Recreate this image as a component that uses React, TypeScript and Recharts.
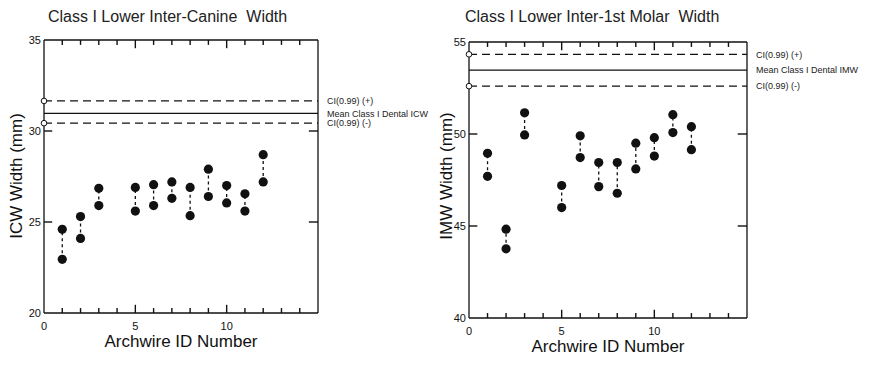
import { ScatterChart, Scatter, XAxis, YAxis, ReferenceLine, ReferenceDot } from 'recharts'

const archwireIds = [1, 2, 3, 5, 6, 7, 8, 9, 10, 11, 12]

// inter-canine width (mm), upper and lower value per archwire
const icwHigh = [24.6, 25.3, 26.85, 26.9, 27.05, 27.2, 26.9, 27.9, 27.0, 26.55, 28.7]
const icwLow = [22.95, 24.1, 25.9, 25.6, 25.9, 26.3, 25.35, 26.4, 26.05, 25.6, 27.2]
const icwRefs = [31.65, 30.97, 30.43]
const icwRefLabels = ['CI(0.99) (+)', 'Mean Class I Dental ICW', 'CI(0.99) (-)']
const icwTicks = [20, 25, 30, 35]

// inter-1st molar width (mm)
const imwHigh = [48.95, 44.83, 51.15, 47.2, 49.9, 48.45, 48.45, 49.5, 49.8, 51.05, 50.4]
const imwLow = [47.7, 43.76, 49.95, 46.0, 48.72, 47.14, 46.78, 48.1, 48.8, 50.08, 49.15]
const imwRefs = [54.33, 53.47, 52.6]
const imwRefLabels = ['CI(0.99) (+)', 'Mean Class I Dental IMW', 'CI(0.99) (-)']
const imwTicks = [40, 45, 50, 55]

const xTicks = [0, 1, 2, 3, 4, 5, 6, 7, 8, 9, 10, 11, 12, 13, 14, 15]
const xLabelTicks = [0, 5, 10]

const FONT = '"Liberation Sans", Arial, sans-serif'
const INK = '#111'
const AXIS_W = 1.3
// inward tick mark lengths, in axis units (both axes span 15 units over ~275px)
const MINOR = 0.27
const MAJOR = 0.45

const Dot = (p: any) => <circle cx={p.cx} cy={p.cy} r={4.6} fill={INK} />

const BottomLabel = (p: any) => {
  const v = p.payload.value
  if (!xLabelTicks.includes(v)) return <g />
  return <text x={p.x} y={p.y + 17} textAnchor="middle" fontSize={11} fill={INK} fontFamily={FONT}>{v}</text>
}

const LeftLabel = (p: any) => (
  <text x={p.x - 3} y={p.y + 4} textAnchor="end" fontSize={11} fill={INK} fontFamily={FONT}>{p.payload.value}</text>
)

type PanelProps = {
  left: number
  width: number
  margin: { top: number; right: number; bottom: number; left: number }
  yAxisWidth: number
  xAxisHeight: number
  title: string
  titleLeft: number
  yLabel: string
  yLabelX: number
  xLabelX: number
  xLabelY: number
  high: number[]
  low: number[]
  refs: number[]
  refLabels: string[]
  yTicks: number[]
}

function Panel(p: PanelProps) {
  const y0 = p.yTicks[0]
  const y1 = p.yTicks[p.yTicks.length - 1]
  const highPts = archwireIds.map((x, i) => ({ x, y: p.high[i] }))
  const lowPts = archwireIds.map((x, i) => ({ x, y: p.low[i] }))
  const inner = p.yTicks.slice(1, -1)
  const innerX = xTicks.slice(1, -1)
  const tickLine = { stroke: INK, strokeWidth: 1.4, ifOverflow: 'visible' as const }
  return (
    <>
      <div style={{ position: 'absolute', left: p.titleLeft, top: 8, fontSize: 16, color: '#222', whiteSpace: 'pre', fontFamily: FONT }}>
        {p.title}
      </div>
      <div
        style={{
          position: 'absolute', left: p.yLabelX, top: 176, fontSize: 17, color: INK, whiteSpace: 'nowrap',
          fontFamily: FONT, transform: 'translate(-50%, -50%) rotate(-90deg)',
        }}
      >
        {p.yLabel}
      </div>
      <div
        style={{
          position: 'absolute', left: p.xLabelX, top: p.xLabelY, fontSize: 17, color: INK, whiteSpace: 'nowrap',
          fontFamily: FONT, transform: 'translate(-50%, -50%)',
        }}
      >
        Archwire ID Number
      </div>
      <div style={{ position: 'absolute', left: p.left, top: 0 }}>
        <ScatterChart width={p.width} height={367} margin={p.margin}>
          <XAxis
            type="number" dataKey="x" domain={[0, 15]} ticks={xTicks} interval={0}
            height={p.xAxisHeight} tickSize={0} tickMargin={0} tickLine={false}
            tick={<BottomLabel />} stroke={INK} strokeWidth={AXIS_W}
          />
          <XAxis
            xAxisId="top" orientation="top" type="number" dataKey="x" domain={[0, 15]}
            height={1} tick={false} tickLine={false} stroke={INK} strokeWidth={AXIS_W}
          />
          <YAxis
            type="number" dataKey="y" domain={[y0, y1]} ticks={p.yTicks} interval={0}
            width={p.yAxisWidth} tickSize={0} tickMargin={0} tickLine={false}
            tick={<LeftLabel />} stroke={INK} strokeWidth={AXIS_W}
          />
          <YAxis
            yAxisId="right" orientation="right" type="number" domain={[y0, y1]}
            width={1} tick={false} tickLine={false} stroke={INK} strokeWidth={AXIS_W}
          />
          {/* inward tick marks on all four sides */}
          {innerX.map((x) => {
            const len = xLabelTicks.includes(x) ? MAJOR : MINOR
            return [
              <ReferenceLine key={'tb' + x} segment={[{ x, y: y0 }, { x, y: y0 + len }]} {...tickLine} />,
              <ReferenceLine key={'tt' + x} segment={[{ x, y: y1 }, { x, y: y1 - len }]} {...tickLine} />,
            ]
          })}
          {inner.map((y) => [
            <ReferenceLine key={'tl' + y} segment={[{ x: 0, y }, { x: MAJOR, y }]} {...tickLine} />,
            <ReferenceLine key={'tr' + y} segment={[{ x: 15, y }, { x: 15 - MAJOR - 0.05, y }]} {...tickLine} />,
          ])}
          {p.refs.map((v, i) => (
            <ReferenceLine
              key={'r' + i} y={v} stroke={INK} strokeWidth={1.3}
              strokeDasharray={i === 1 ? undefined : '8 5'}
              label={{ value: p.refLabels[i], position: 'right', offset: 9, fontSize: 9, fill: '#222', fontFamily: FONT }}
            />
          ))}
          {p.refs.map((v, i) =>
            i === 1 ? null : <ReferenceDot key={'d' + i} x={0} y={v} r={2.8} fill="#fff" stroke={INK} strokeWidth={1} />
          )}
          {archwireIds.map((x, i) => (
            <ReferenceLine
              key={'s' + x}
              segment={[{ x, y: p.low[i] }, { x, y: p.high[i] }]}
              stroke={INK} strokeWidth={1.3} strokeDasharray="3 3"
            />
          ))}
          <Scatter data={highPts} shape={Dot} isAnimationActive={false} />
          <Scatter data={lowPts} shape={Dot} isAnimationActive={false} />
        </ScatterChart>
      </div>
    </>
  )
}

export default function App() {
  return (
    <div style={{ position: 'absolute', left: 0, top: 0, width: 879, height: 367, background: '#fff', overflow: 'hidden' }}>
      <Panel
        left={0} width={440} margin={{ top: 39, right: 121, bottom: 0, left: 14 }} yAxisWidth={30} xAxisHeight={54}
        title={'Class I Lower Inter-Canine  Width'} titleLeft={48}
        yLabel="ICW Width (mm)" yLabelX={17} xLabelX={181} xLabelY={342}
        high={icwHigh} low={icwLow} refs={icwRefs} refLabels={icwRefLabels} yTicks={icwTicks}
      />
      <Panel
        left={440} width={439} margin={{ top: 41, right: 131, bottom: 0, left: 0 }} yAxisWidth={29} xAxisHeight={49}
        title={'Class I Lower Inter-1st Molar  Width'} titleLeft={465}
        yLabel="IMW Width (mm)" yLabelX={447} xLabelX={608} xLabelY={347}
        high={imwHigh} low={imwLow} refs={imwRefs} refLabels={imwRefLabels} yTicks={imwTicks}
      />
    </div>
  )
}
